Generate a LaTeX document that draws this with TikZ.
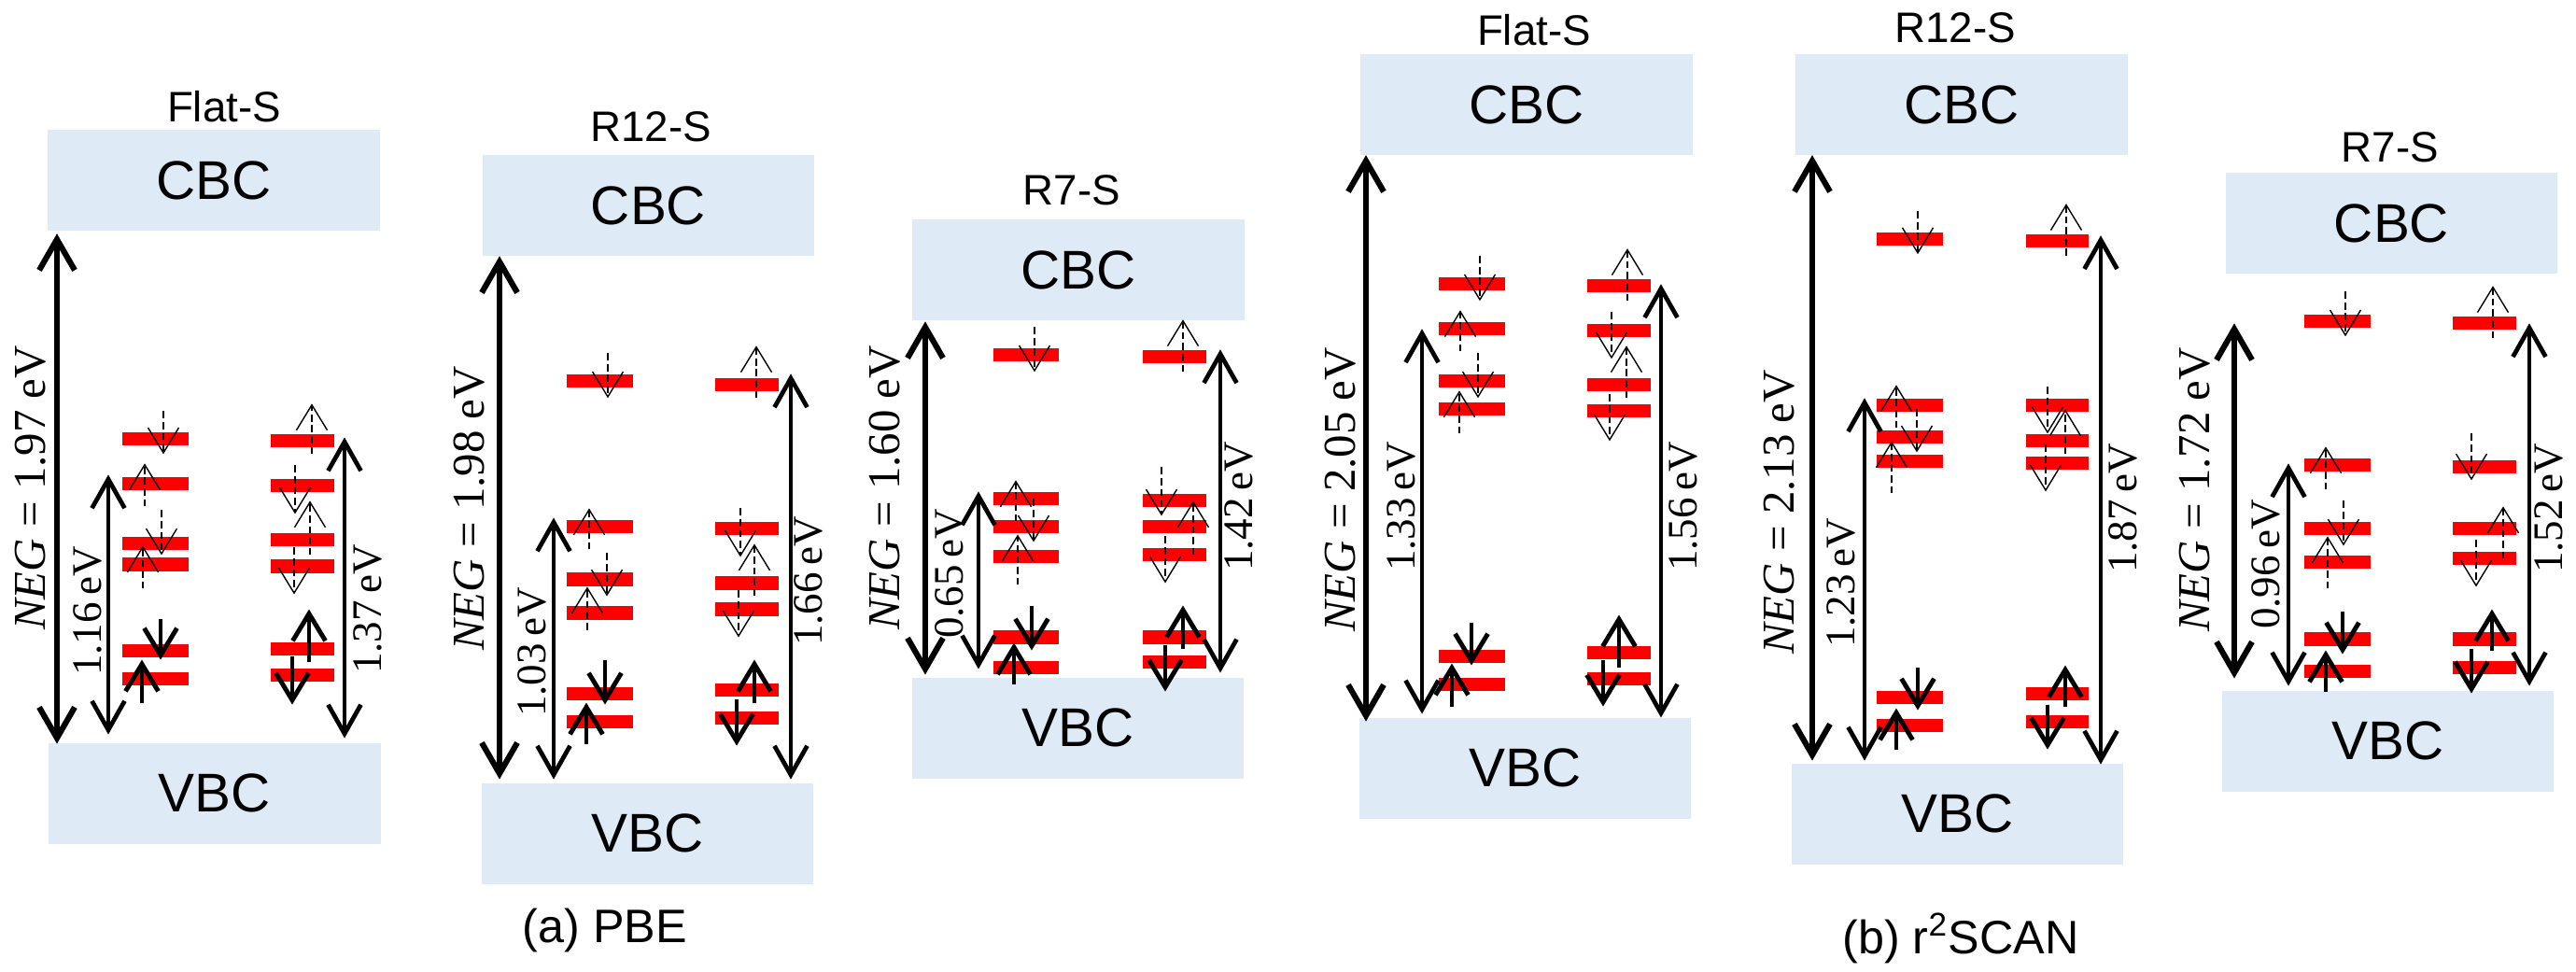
\documentclass[tikz,border=0pt]{standalone}
\usepackage{fontspec}
\usepackage{tikz}
\usetikzlibrary{arrows.meta}
\newfontfamily\bandsans{Liberation Sans}
\newfontfamily\labserif{Liberation Serif}
\definecolor{bandblue}{HTML}{DEEBF7}

\begin{document}
\begin{tikzpicture}[x=0.01cm,y=-0.02cm,
                     band/.style={fill=bandblue,
                         minimum width=3.55cm,
                         minimum height=1.08cm,
                         inner sep=0pt,
                         font=\bandsans\fontsize{16.6}{18}\selectfont},
                     title/.style={inner sep=0pt,
                         font=\bandsans\fontsize{13}{15}\selectfont},
                     caption/.style={inner sep=0pt,
                         font=\bandsans\fontsize{14.3}{16}\selectfont},
                     lvl/.style={red, line width=4pt},
                     neg/.style={{Straight Barb[length=0.33cm,width=0.38cm]}-{Straight Barb[length=0.33cm,width=0.38cm]},
                         line width=1.75pt},
                     gap/.style={{Straight Barb[length=0.31cm,width=0.35cm]}-{Straight Barb[length=0.31cm,width=0.35cm]},
                         line width=1.35pt},
                     spin/.style={-{Straight Barb[length=0.29cm,width=0.35cm]},
                         line width=1.4pt},
                     spind/.style={-{Straight Barb[length=0.27cm,width=0.33cm]},
                         line width=0.4pt, dash pattern=on 2.2pt off 1.1pt},
                     neglab/.style={rotate=90, inner sep=0pt,
                         font=\labserif\fontsize{13.9}{14}\selectfont},
                     gaplab/.style={rotate=90, inner sep=0pt,
                         font=\labserif\fontsize{12.8}{13}\selectfont}]
    \useasboundingbox (0,0) rectangle (2759,520);

    \node[title](titA) at (240,57) {Flat-S};
    \node[band](cbcA) at (229,96.5) {CBC};
    \node[band](vbcA) at (230,424.5) {VBC};
    \foreach \y in {235,259,291,302,348,363}
        \draw[lvl] (131,\y) -- (202,\y);
    \foreach \y in {236,260,289,303,347,361}
        \draw[lvl] (290,\y) -- (358,\y);
    \foreach \x/\a/\b in {175/220/243,155/271/248,173/273/297,153/315/292,
                          334/243/216,316/249/275,332/297/268,315/293/318}
        \draw[spind] (\x,\a) -- (\x,\b);
    \foreach \x/\a/\b in {172/331/353,152/376/353,331/354/326,313/351/377}
        \draw[spin] (\x,\a) -- (\x,\b);
    \draw[neg] (61,125) -- (61,398);
    \draw[gap] (116,254) -- (116,393);
    \draw[gap] (369,234) -- (369,395);
    \node[neglab](negA) at (33,261) {\textit{NEG} = 1.97 eV};
    \node[gaplab](lowA) at (94,327) {1.16\,eV};
    \node[gaplab](highA) at (394,326) {1.37\,eV};

    \node[title](titB) at (697,68) {R12-S};
    \node[band](cbcB) at (694.5,110) {CBC};
    \node[band](vbcB) at (693.5,446) {VBC};
    \node[caption](capA) at (648,498) {(a) PBE};
    \foreach \y in {204,282,310,328,371,386}
        \draw[lvl] (607,\y) -- (678,\y);
    \foreach \y in {206,283,312,326,369,384}
        \draw[lvl] (766,\y) -- (834,\y);
    \foreach \x/\a/\b in {651/189/213,631/294/272,650/296/319,629/337/314,
                          810/213/185,793/272/298,808/319/291,791/316/341}
        \draw[spind] (\x,\a) -- (\x,\b);
    \foreach \x/\a/\b in {648/353/377,628/398/376,808/376/353,789/374/399}
        \draw[spin] (\x,\a) -- (\x,\b);
    \draw[neg] (535,137) -- (535,417);
    \draw[gap] (593,277) -- (593,417);
    \draw[gap] (847,200) -- (847,417);
    \node[neglab](negB) at (503,272) {\textit{NEG} = 1.98 eV};
    \node[gaplab](lowB) at (570,349) {1.03\,eV};
    \node[gaplab](highB) at (866,311) {1.66\,eV};

    \node[title](titC) at (1148,102) {R7-S};
    \node[band](cbcC) at (1155,144.5) {CBC};
    \node[band](vbcC) at (1154.5,389.5) {VBC};
    \foreach \y in {190,267,282,298,341,357}
        \draw[lvl] (1064,\y) -- (1134,\y);
    \foreach \y in {191,268,282,297,341,354}
        \draw[lvl] (1224,\y) -- (1292,\y);
    \foreach \x/\a/\b in {1108/175/199,1088/279/257,1107/267/290,1090/313/286,
                          1267/199/171,1244/250/276,1278/297/268,1248/287/312}
        \draw[spind] (\x,\a) -- (\x,\b);
    \foreach \x/\a/\b in {1105/324/348,1086/366/344,1267/347/324,1248/345/370}
        \draw[spin] (\x,\a) -- (\x,\b);
    \draw[neg] (991,172) -- (991,361);
    \draw[gap] (1048,263) -- (1048,358);
    \draw[gap] (1307,187) -- (1307,360);
    \node[neglab](negC) at (948,261) {\textit{NEG} = 1.60 eV};
    \node[gaplab](lowC) at (1017,307) {0.65\,eV};
    \node[gaplab](highC) at (1327,271) {1.42\,eV};

    \node[title](titD) at (1643,16) {Flat-S};
    \node[band](cbcD) at (1635,56) {CBC};
    \node[band](vbcD) at (1633.5,411) {VBC};
    \foreach \y in {152,176,204,219,351,366}
        \draw[lvl] (1541,\y) -- (1612,\y);
    \foreach \y in {153,177,206,220,349,363}
        \draw[lvl] (1700,\y) -- (1768,\y);
    \foreach \x/\a/\b in {1585/137/161,1564/188/166,1583/189/213,1563/232/209,
                          1743/161/133,1726/167/192,1742/213/185,1724/211/236}
        \draw[spind] (\x,\a) -- (\x,\b);
    \foreach \x/\a/\b in {1576/333/356,1555/378/355,1734/357/329,1717/353/378}
        \draw[spin] (\x,\a) -- (\x,\b);
    \draw[neg] (1463,83) -- (1463,386);
    \draw[gap] (1523,176) -- (1523,382);
    \draw[gap] (1779,152) -- (1779,384);
    \node[neglab](negD) at (1436,262) {\textit{NEG} = 2.05 eV};
    \node[gaplab](lowD) at (1501,271) {1.33\,eV};
    \node[gaplab](highD) at (1803,271) {1.56\,eV};

    \node[title](titE) at (2094,15) {R12-S};
    \node[band](cbcE) at (2101,56) {CBC};
    \node[band](vbcE) at (2096.5,435.5) {VBC};
    \node[caption](capB) at (2100,502) {(b) r\textsuperscript{2}SCAN};
    \foreach \y in {128,217,234,247,373,388}
        \draw[lvl] (2010,\y) -- (2081,\y);
    \foreach \y in {129,217,236,248,371,386}
        \draw[lvl] (2170,\y) -- (2237,\y);
    \foreach \x/\a/\b in {2054/113/136,2031/229/206,2053/219/242,2026/264/236,
                          2213/137/109,2193/207/232,2212/243/219,2191/238/263}
        \draw[spind] (\x,\a) -- (\x,\b);
    \foreach \x/\a/\b in {2054/357/380,2031/401/379,2212/378/356,2193/377/401}
        \draw[spin] (\x,\a) -- (\x,\b);
    \draw[neg] (1941,83) -- (1941,407);
    \draw[gap] (1997,213) -- (1997,407);
    \draw[gap] (2250,126) -- (2250,409);
    \node[neglab](negE) at (1906,274) {\textit{NEG} = 2.13 eV};
    \node[gaplab](lowE) at (1972,312) {1.23\,eV};
    \node[gaplab](highE) at (2274,272) {1.87\,eV};

    \node[title](titF) at (2560,79) {R7-S};
    \node[band](cbcF) at (2561.5,119.5) {CBC};
    \node[band](vbcF) at (2557.5,396.5) {VBC};
    \foreach \y in {172,249,283,301,342,359}
        \draw[lvl] (2468,\y) -- (2539,\y);
    \foreach \y in {173,250,283,299,342,357}
        \draw[lvl] (2627,\y) -- (2695,\y);
    \foreach \x/\a/\b in {2512/156/180,2491/262/239,2510/268/292,2493/315/287,
                          2670/181/153,2647/232/257,2681/299/271,2652/289/314}
        \draw[spind] (\x,\a) -- (\x,\b);
    \foreach \x/\a/\b in {2509/327/350,2491/370/348,2669/348/326,2647/347/371}
        \draw[spin] (\x,\a) -- (\x,\b);
    \draw[neg] (2393,173) -- (2393,363);
    \draw[gap] (2451,248) -- (2451,367);
    \draw[gap] (2709,173) -- (2709,367);
    \node[neglab](negF) at (2351,262) {\textit{NEG} = 1.72 eV};
    \node[gaplab](lowF) at (2427,302) {0.96\,eV};
    \node[gaplab](highF) at (2730,272) {1.52\,eV};
\end{tikzpicture}
\end{document}
